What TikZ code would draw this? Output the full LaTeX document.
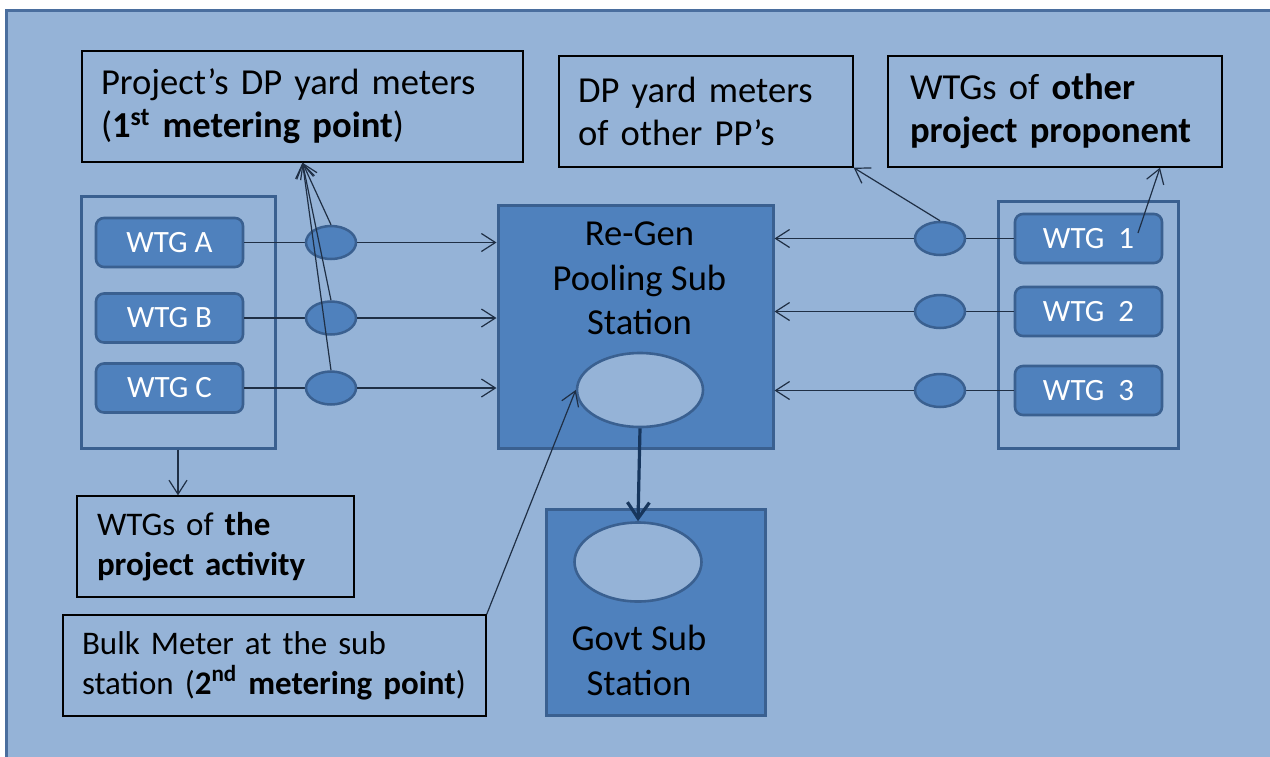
\documentclass[tikz,border=0pt]{standalone}
\usepackage{fontspec}
\setmainfont{Carlito}
\usepackage{tikz}
\usetikzlibrary{positioning, arrows.meta, shapes.geometric}
\definecolor{paleblue}{HTML}{95B3D7}
\definecolor{midblue}{HTML}{4F81BD}
\definecolor{edgeblue}{HTML}{3A6090}
\definecolor{frameblue}{HTML}{4A6E9E}
\definecolor{wireblue}{HTML}{1F2F45}
\definecolor{navyline}{HTML}{17365D}

\tikzset{
  lbl/.style={draw=black, line width=0.7pt, align=left, inner ysep=0pt,
    font=\fontsize{18.3pt}{21.5pt}\selectfont},
  lblsmall/.style={lbl, font=\fontsize{16.5pt}{20pt}\selectfont},
  farm/.style={draw=edgeblue, line width=1.5pt, minimum height=123.5pt},
  wtg/.style={draw=edgeblue, fill=midblue, line width=1.3pt, rounded corners=4pt,
    minimum width=73.5pt, minimum height=24.5pt, inner sep=0pt, text=white,
    font=\fontsize{15.5pt}{18pt}\selectfont},
  meter/.style={ellipse, draw=edgeblue, fill=midblue, line width=1.25pt,
    minimum width=25pt, minimum height=16.5pt, inner sep=0pt},
  station/.style={draw=edgeblue, fill=midblue, line width=1.5pt, inner sep=0pt},
  sttext/.style={align=center, inner sep=0pt, font=\fontsize{18.3pt}{22.3pt}\selectfont},
  bigmeter/.style={ellipse, draw=edgeblue, fill=paleblue, line width=1.3pt, inner sep=0pt},
  wire/.style={draw=wireblue, line width=0.6pt},
  arr/.style={wire, -{Straight Barb[length=7pt, width=9pt]}},
  feed/.style={draw=navyline, line width=1.6pt, -{Straight Barb[length=8pt, width=11pt]}}
}

\begin{document}
\begin{tikzpicture}[x=0.5pt, y=-0.5pt]
  \useasboundingbox (0,0) rectangle (1270,756);
  \clip (0,0) rectangle (1270,756);
  \fill[white] (0,0) rectangle (1270,756);
  \draw[draw=frameblue, fill=paleblue, line width=1.5pt] (6,10) rectangle (1300,790);

  % text boxes
  \node[lbl, inner xsep=9.5pt, minimum width=220.5pt, minimum height=55.5pt, text width=201.5pt]
    (projm) at (302.5,106.5) {Project’s DP yard meters\\(\textbf{1\textsuperscript{st} metering point})};
  \node[lbl, inner xsep=9.5pt, minimum width=147pt, minimum height=55.5pt, text width=128pt]
    (dpother) at (706,111.5) {DP yard meters\\of other PP’s};
  \node[lbl, inner xsep=11pt, minimum width=167pt, minimum height=55.5pt, text width=145pt]
    (wother) at (1055,111.5) {WTGs of \textbf{other}\\\textbf{project proponent}};
  \node[lblsmall, inner xsep=10pt, minimum width=138.5pt, minimum height=50.5pt, text width=118.5pt]
    (acts) at (215.5,546.5) {WTGs of \textbf{the}\\\textbf{project activity}};
  \node[lblsmall, inner xsep=9.5pt, minimum width=211.5pt, minimum height=50.5pt, text width=192.5pt]
    (bulk) at (274.5,665.5) {Bulk Meter at the sub\\station (\textbf{2\textsuperscript{nd} metering point})};

  % wind farms
  \node[farm, minimum width=97pt, minimum height=126pt] (ownfarm) at (178,322) {};
  \node[farm, minimum width=90pt] (othfarm) at (1088,324.5) {};
  \node[wtg] (wa) at (169.5,242.5) {WTG A};
  \node[wtg] (wb) at (169.5,318) {WTG B};
  \node[wtg] (wc) at (169.5,388) {WTG C};
  \node[wtg] (wr1) at (1088.5,238.5) {WTG~~1};
  \node[wtg] (wr2) at (1088.5,311.5) {WTG~~2};
  \node[wtg] (wr3) at (1088.5,390.5) {WTG~~3};

  % sub stations
  \node[station, minimum width=137.5pt, minimum height=121.5pt] (regen) at (635.5,326.5) {};
  \node[sttext, below=9pt of regen.north, xshift=2pt] (regentxt) {Re-Gen\\Pooling Sub\\Station};
  \node[bigmeter, minimum width=63pt, minimum height=37pt] (bulkm) at (640,390) {};
  \node[station, minimum width=109.5pt, minimum height=103pt] (govt) at (655.5,612) {};
  \node[sttext, anchor=north] (govttxt) at (639,625) {Govt Sub\\Station};
  \node[bigmeter, minimum width=63.5pt, minimum height=39.5pt] (govtm) at (638,562) {};

  % feeders
  \draw[wire] (wa.east) -- (331,242.5);
  \draw[wire] (wb.east) -- (331,318);
  \draw[wire] (wc.east) -- (331,388);
  \draw[wire] (wr1.west) -- (940,238.5);
  \draw[wire] (wr2.west) -- (940,311.5);
  \draw[wire] (wr3.west) -- (940,390.5);
  \node[meter] (ma) at (331,242.5) {};
  \node[meter] (mb) at (331,318) {};
  \node[meter] (mc) at (331,388) {};
  \node[meter] (mr1) at (940,238.5) {};
  \node[meter] (mr2) at (940,311.5) {};
  \node[meter] (mr3) at (940,390.5) {};
  \draw[arr] (ma) -- (ma -| regen.west);
  \draw[arr] (mb) -- (mb -| regen.west);
  \draw[arr] (mc) -- (mc -| regen.west);
  \draw[arr] (mr1) -- (mr1 -| regen.east);
  \draw[arr] (mr2) -- (mr2 -| regen.east);
  \draw[arr] (mr3) -- (mr3 -| regen.east);
  \draw[feed] (bulkm.south) -- (govtm.north);

  % pointers to the text boxes
  \draw[arr] (ma.north) -- (projm.south);
  \draw[arr] (mb.north) -- (projm.south);
  \draw[arr] (mc.north) -- (projm.south);
  \draw[arr] (mr1.north) -- (dpother.south east);
  \draw[arr] ([xshift=24.75pt, yshift=2.75pt]wr1.center) -- ([xshift=52.5pt]wother.south);
  \draw[arr] (ownfarm.south) -- (ownfarm.south |- acts.north);
  \draw[arr] (bulk.north east) -- (bulkm.west);
\end{tikzpicture}
\end{document}
